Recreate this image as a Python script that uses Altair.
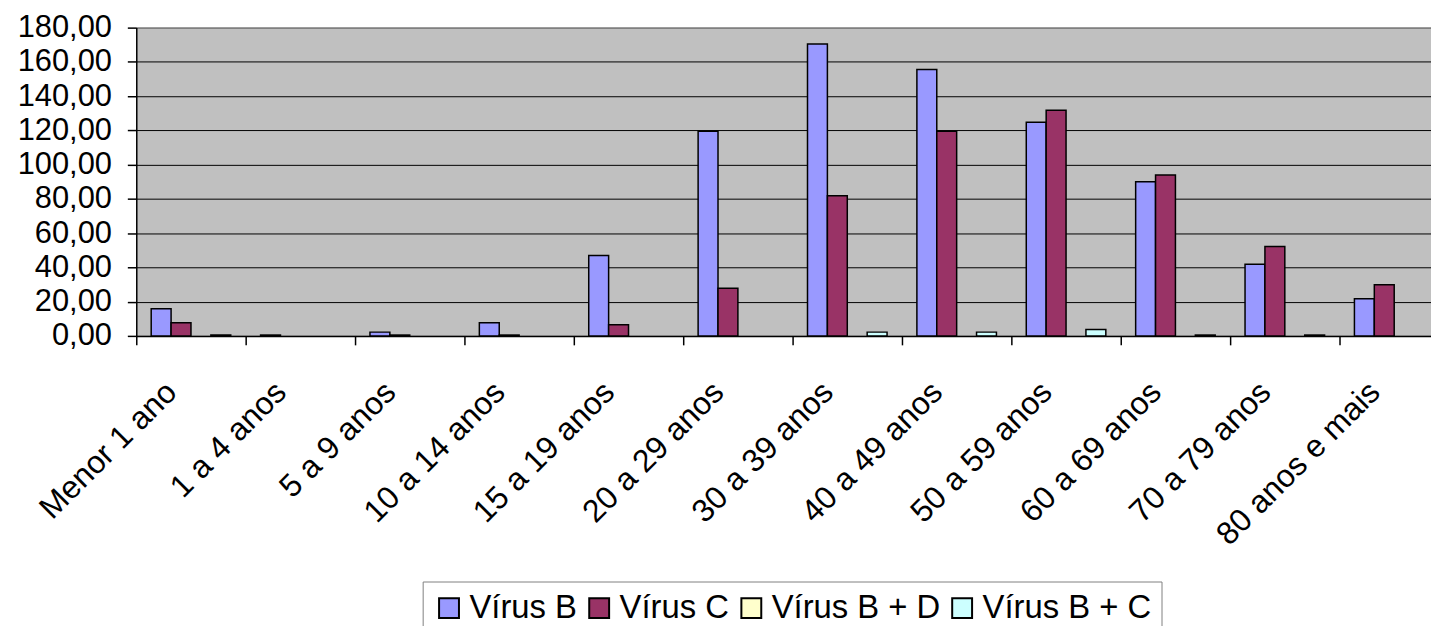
import altair as alt
import pandas as pd

categories = ["Menor 1 ano", "1 a 4 anos", "5 a 9 anos", "10 a 14 anos", "15 a 19 anos",
              "20 a 29 anos", "30 a 39 anos", "40 a 49 anos", "50 a 59 anos",
              "60 a 69 anos", "70 a 79 anos", "80 anos e mais"]
series = ["Vírus B", "Vírus C", "Vírus B + D", "Vírus B + C"]
virus_b = [15.8, 0.5, 2.2, 7.7, 47.0, 119.5, 170.5, 155.5, 124.7, 90.0, 41.8, 21.7]
virus_c = [7.7, 0.0, 0.5, 0.5, 6.5, 27.8, 81.8, 119.5, 131.7, 94.0, 52.2, 29.8]
virus_bd = [0.0] * 12
virus_bc = [0.5, 0.0, 0.0, 0.0, 0.0, 0.0, 2.2, 2.2, 3.8, 0.5, 0.5, 0.0]
colors = ["#9999FF", "#993366", "#FFFFCC", "#CCFFFF"]
y_ticks = [0, 20, 40, 60, 80, 100, 120, 140, 160, 180]

rows = []
for s, vals in zip(series, [virus_b, virus_c, virus_bd, virus_bc]):
    for c, v in zip(categories, vals):
        rows.append({"faixa": c, "serie": s, "valor": v})
df = pd.DataFrame(rows)

FONT = "Liberation Sans"

chart = alt.Chart(df).transform_filter(
    "datum.valor > 0"
).mark_bar(stroke="black", strokeWidth=1.5).encode(
    x=alt.X("faixa:N", sort=categories,
            scale=alt.Scale(domain=categories, range=[0, 1320],
                            paddingInner=0.2727, paddingOuter=0.1364),
            axis=alt.Axis(title=None, labelAngle=-45, labelAlign="right",
                          labelBaseline="middle", labelFontSize=32,
                          labelFont=FONT, labelColor="black",
                          labelPadding=42, labelOffset=35, tickOffset=-55,
                          tickSize=9, tickColor="black",
                          tickWidth=1.5, domainColor="black", domainWidth=1.5,
                          grid=False, labelLimit=400)),
    xOffset=alt.XOffset("serie:N", sort=series,
                        scale=alt.Scale(domain=series, paddingInner=0, paddingOuter=0)),
    y=alt.Y("valor:Q",
            scale=alt.Scale(domain=[0, 180], nice=False),
            axis=alt.Axis(title=None, values=y_ticks,
                          labelExpr="replace(format(datum.value, '.2f'), '.', ',')",
                          labelFontSize=31, labelFont=FONT, labelColor="black",
                          labelPadding=16, tickSize=9, tickColor="black",
                          tickWidth=1.5, domainColor="black", domainWidth=1.5,
                          grid=True,
                          gridColor=alt.condition("datum.value == 180",
                                                  alt.value("#808080"),
                                                  alt.value("black")),
                          gridWidth=alt.condition("datum.value == 180",
                                                  alt.value(2),
                                                  alt.value(1)))),
    color=alt.Color("serie:N", sort=series,
                    scale=alt.Scale(domain=series, range=colors),
                    legend=alt.Legend(title=None, orient="none", direction="horizontal",
                                      legendX=288, legendY=557,
                                      labelFontSize=33, labelFont=FONT, labelColor="black",
                                      symbolType="square", symbolSize=400,
                                      symbolStrokeColor="black", symbolStrokeWidth=2,
                                      labelOffset=4, columnPadding=5,
                                      padding=10, strokeColor="#808080",
                                      fillColor="white", labelLimit=400)),
).properties(
    width=1302,
    height=310,
    autosize=alt.AutoSizeParams(type="none"),
    padding={"left": 129, "top": 18, "right": 0, "bottom": 290},
    background="white",
).configure_view(
    fill="#C0C0C0",
    stroke=None,
)

chart.save("out.html", embed_options={"renderer": "svg", "actions": False})
